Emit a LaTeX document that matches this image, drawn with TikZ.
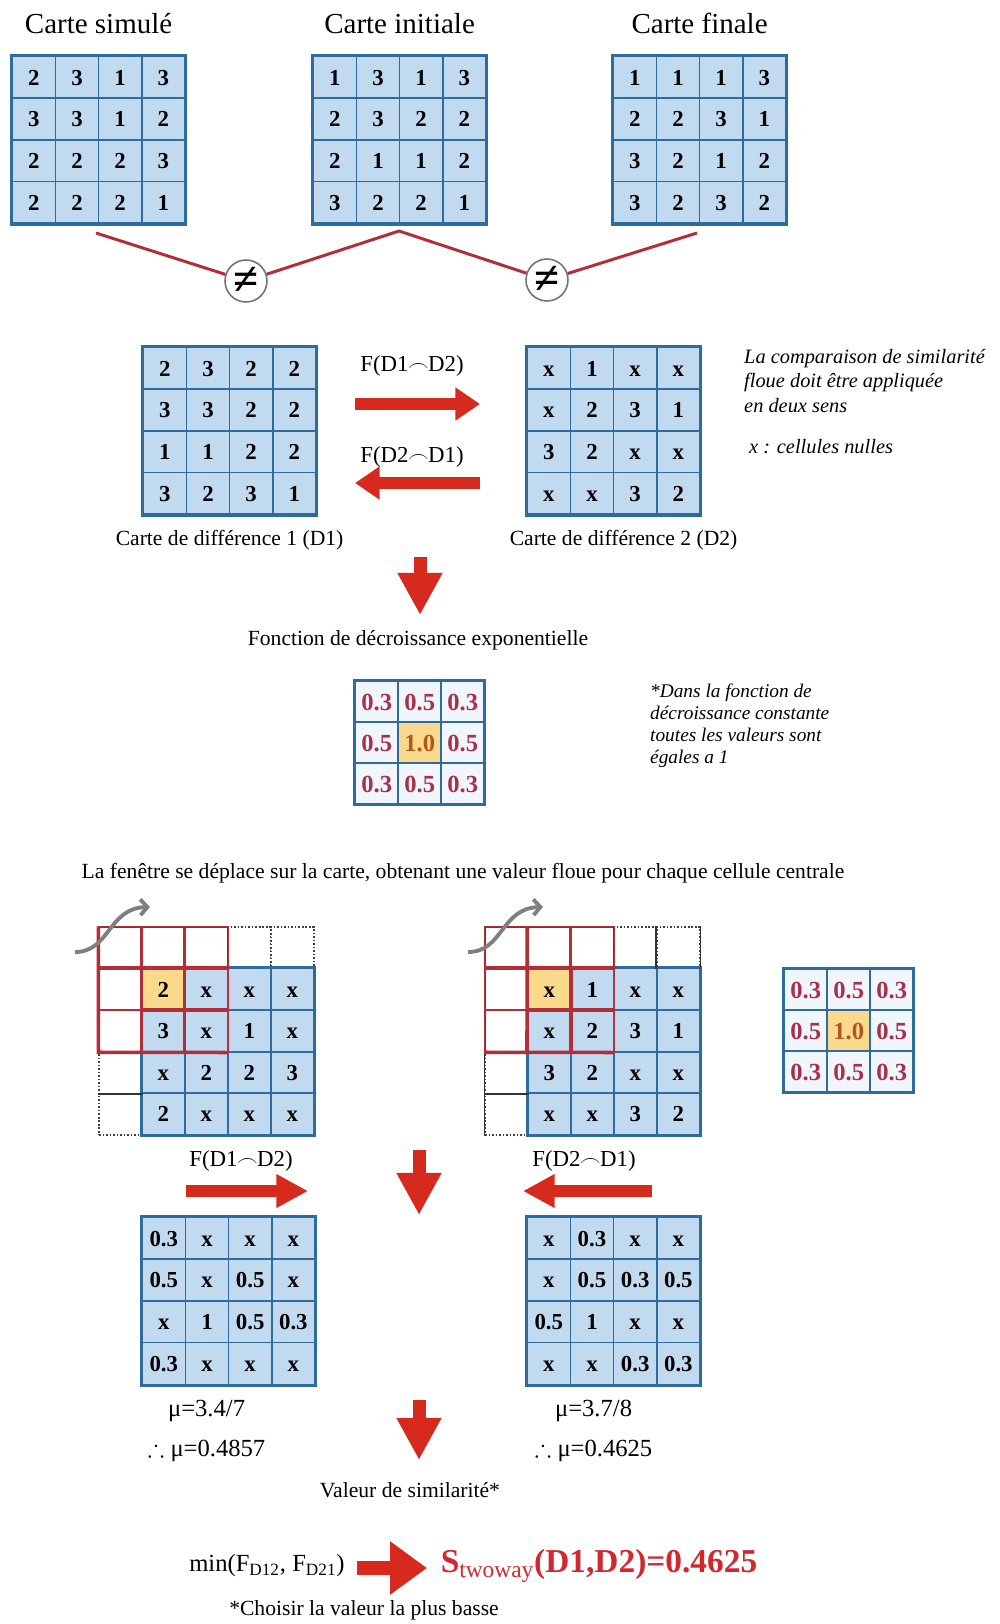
\documentclass[tikz,border=0pt]{standalone}
\usepackage{fontspec}
\setmainfont{Liberation Serif}
\usepackage{amssymb}
\usepackage{tikz}
\usetikzlibrary{positioning,arrows.meta,matrix}

\definecolor{cellblue}{HTML}{C2DAF0}
\definecolor{gridblue}{HTML}{2D6C9C}
\definecolor{linkred}{HTML}{B22F3A}
\definecolor{arrowred}{HTML}{D62A1E}
\definecolor{kernred}{HTML}{A8304A}
\definecolor{kernfill}{HTML}{F0F6FB}
\definecolor{hotyellow}{HTML}{F9D98C}
\definecolor{hottext}{HTML}{B2561C}
\definecolor{edgebrown}{HTML}{6E3A3A}
\definecolor{swoopgray}{HTML}{7F7F7F}
\definecolor{resultred}{HTML}{D0282E}

\newcommand{\fsz}[2]{\fontsize{#1}{#2}\selectfont}
\newcommand{\capjoin}{\kern-0.3pt$\frown$\kern-0.3pt}

\begin{document}
\begin{tikzpicture}[
        x=0.02cm, y=-0.02cm,
        every node/.style={font=\fsz{12.3}{14}},
        maptitle/.style={font=\fsz{16.5}{19}},
        caption/.style={font=\fsz{12.3}{14}},
        flab/.style={font=\fsz{13}{15}},
        mutext/.style={font=\fsz{14}{16}},
        remark/.style={font=\fsz{11.6}{14.2}\itshape, align=left, anchor=west},
        cellbox/.style={
            draw=gridblue,
            fill=cellblue,
            line width=1pt,
            inner sep=0pt,
            anchor=center,
            text height=9pt,
            text depth=0pt,
            minimum width=0.864cm,
            minimum height=0.836cm,
            font=\fsz{13}{13}\bfseries
        },
        mapgrid/.style={
            matrix of nodes,
            nodes={cellbox},
            column sep=-1pt,
            row sep=-1pt,
            inner sep=0pt,
            anchor=north west,
            draw=gridblue,
            line width=1.5pt
        },
        kernbox/.style={cellbox, fill=kernfill, text=kernred, text height=9.6pt,
            minimum width=0.86cm, minimum height=0.82cm, font=\fsz{14}{14}\bfseries},
        kerngrid/.style={mapgrid, nodes={kernbox}},
        hotcell/.style={fill=hotyellow, text=hottext},
        hotmap/.style={fill=hotyellow},
        slidegrid/.style={mapgrid, draw=none, nodes in empty cells,
            nodes={minimum width=0.86cm, minimum height=0.832cm}},
        edgecell/.style={fill=white, draw=edgebrown, line width=0.7pt},
        dotcell/.style={fill=white, draw=black!75, densely dotted, line width=0.8pt},
        edgeline/.style={draw=black!80, line width=0.9pt},
        mapframe/.style={draw=gridblue, line width=1.5pt},
        winthin/.style={draw=linkred, line width=0.9pt},
        winthick/.style={draw=linkred, line width=2pt},
        neqdot/.style={circle, draw=black!55, fill=white, line width=0.9pt,
            minimum size=0.84cm, inner sep=0pt, font=\fsz{26}{26}\bfseries},
        redlink/.style={draw=linkred, line width=1.7pt},
        flatarrow/.style={draw=arrowred, line width=7pt, -{Triangle[width=18pt, length=14pt]}},
        lowarrow/.style={flatarrow, -{Triangle[width=18pt, length=18pt]}},
        droparrow/.style={draw=arrowred, line width=7.4pt, -{Triangle[width=24pt, length=24pt]}},
        bigarrow/.style={draw=arrowred, line width=8.5pt, -{Triangle[width=29pt, length=21pt]}},
        swoop/.style={draw=swoopgray, line width=2.2pt, -{Straight Barb[length=4pt, width=9pt]}}
    ]
        \fill[white] (0,0) rectangle (1000,1624);
        \useasboundingbox (0,0) rectangle (1000,1624);

        % Three maps
        \matrix (sim) [mapgrid] at (10,54) {
            2 & 3 & 1 & 3 \\
            3 & 3 & 1 & 2 \\
            2 & 2 & 2 & 3 \\
            2 & 2 & 2 & 1 \\
        };
        \matrix (ini) [mapgrid] at (311,54) {
            1 & 3 & 1 & 3 \\
            2 & 3 & 2 & 2 \\
            2 & 1 & 1 & 2 \\
            3 & 2 & 2 & 1 \\
        };
        \matrix (fin) [mapgrid] at (611,54) {
            1 & 1 & 1 & 3 \\
            2 & 2 & 3 & 1 \\
            3 & 2 & 1 & 2 \\
            3 & 2 & 3 & 2 \\
        };
        \node[maptitle, above=8pt of sim] (simT) {Carte simulé};
        \node[maptitle, above=8pt of ini] (iniT) {Carte initiale};
        \node[maptitle, above=8pt of fin] (finT) {Carte finale};

        % Comparison
        \node[neqdot] (neqA) at (246,281) {≠};
        \node[neqdot] (neqB) at (547,280) {≠};
        \coordinate (linkL) at (96,233);
        \coordinate (linkM) at (399,231);
        \coordinate (linkR) at (697,233);
        \draw[redlink] (linkL) -- (neqA) -- (linkM) -- (neqB) -- (linkR);

        % Difference maps
        \matrix (dA) [mapgrid] at (141,345) {
            2 & 3 & 2 & 2 \\
            3 & 3 & 2 & 2 \\
            1 & 1 & 2 & 2 \\
            3 & 2 & 3 & 1 \\
        };
        \matrix (dB) [mapgrid] at (525,345) {
            x & 1 & x & x \\
            x & 2 & 3 & 1 \\
            3 & 2 & x & x \\
            x & x & 3 & 2 \\
        };
        \node[caption, below=4pt of dA] (dAcap) {Carte de différence 1 (D1)};
        \node[caption, below=4pt of dB, xshift=0.2cm] (dBcap) {Carte de différence 2 (D2)};

        \coordinate (fwdS) at (355,404);
        \coordinate (fwdE) at (480,404);
        \coordinate (bwdS) at (480,483);
        \coordinate (bwdE) at (355,483);
        \draw[flatarrow] (fwdS) -- (fwdE);
        \draw[flatarrow] (bwdS) -- (bwdE);
        \node[flab] (fwdL) at (412,366) {F(D1\capjoin D2)};
        \node[flab] (bwdL) at (412,457) {F(D2\capjoin D1)};

        \node[remark] (twoWay) at (738,381) {La comparaison de similarité\\floue doit être appliquée\\en deux sens};
        \node[remark] (nullNote) at (743,447) {x : cellules nulles};

        % Decay kernel
        \coordinate (dropAs) at (420,557);
        \coordinate (dropAe) at (420,615);
        \draw[droparrow] (dropAs) -- (dropAe);
        \node (decayT) at (418,640) {Fonction de décroissance exponentielle};
        \matrix (kerA) [kerngrid] at (353,679) {
            0.3 & 0.5 & 0.3 \\
            0.5 & |[hotcell]| 1.0 & 0.5 \\
            0.3 & 0.5 & 0.3 \\
        };
        \node[remark, font=\fsz{11}{12.5}\itshape] (constNote) at (644,726) {*Dans la fonction de\\décroissance constante\\toutes les valeurs sont\\égales a 1};

        % Moving window
        \node (slideT) at (463,873) {La fenêtre se déplace sur la carte, obtenant une valeur floue pour chaque cellule centrale};
        \matrix (slA) [slidegrid] at (97,925) {
            |[edgecell]| & |[edgecell]| & |[edgecell]| & |[dotcell]| & |[dotcell]| \\
            |[edgecell]| & |[hotmap]| 2 & x & x & x \\
            |[edgecell]| & 3 & x & 1 & x \\
            |[dotcell]| & x & 2 & 2 & 3 \\
            |[dotcell]| & 2 & x & x & x \\
        };
        \matrix (slB) [slidegrid] at (483,925) {
            |[edgecell]| & |[edgecell]| & |[edgecell]| & |[dotcell]| & |[dotcell]| \\
            |[edgecell]| & |[hotmap]| x & 1 & x & x \\
            |[edgecell]| & x & 2 & 3 & 1 \\
            |[dotcell]| & 3 & 2 & x & x \\
            |[dotcell]| & x & x & 3 & 2 \\
        };
        \draw[mapframe] (slA-2-2.north west) rectangle (slA-5-5.south east);
        \draw[mapframe] (slB-2-2.north west) rectangle (slB-5-5.south east);
        \draw[edgeline] (slA-4-1.south west) -- (slA-4-1.south east);
        \draw[edgeline] (slB-1-5.north west) -- (slB-1-5.south west);
        \draw[edgeline] (slB-1-5.north east) -- (slB-1-5.south east);
        \draw[edgeline] (slB-4-1.north west) -- (slB-5-1.south west);
        \draw[edgeline] (slB-4-1.south west) -- (slB-4-1.south east);
        \foreach \r in {1,2,3} {
            \foreach \c in {1,2,3} {
                \draw[winthin] (slA-\r-\c.north west) rectangle (slA-\r-\c.south east);
                \draw[winthin] (slB-\r-\c.north west) rectangle (slB-\r-\c.south east);
            }
        }
        \draw[winthick] (slA-1-1.north west) -- (slA-3-1.south west) -- (slA-3-3.south east);
        \draw[winthick] (slA-2-1.north west) -- (slA-2-3.north east);
        \draw[winthick] (slB-1-2.north west) -- (slB-3-2.south west);
        \draw[winthick] (slB-2-1.north west) -- (slB-2-3.north east);
        \draw[winthick] (slB-3-1.south west) -- (slB-3-3.south east);

        \coordinate (swAs) at (75,952);
        \coordinate (swAe) at (150,907);
        \coordinate (swBs) at (468,952);
        \coordinate (swBe) at (543,907);
        \draw[swoop] (swAs) .. controls (110,952) and (108,908) .. (swAe);
        \draw[swoop] (swBs) .. controls (503,952) and (501,908) .. (swBe);

        \matrix (kerB) [kerngrid] at (782,967) {
            0.3 & 0.5 & 0.3 \\
            0.5 & |[hotcell]| 1.0 & 0.5 \\
            0.3 & 0.5 & 0.3 \\
        };

        % Fuzzy values
        \node[flab] (fwdL2) at (241,1161) {F(D1\capjoin D2)};
        \node[flab] (bwdL2) at (584,1161) {F(D2\capjoin D1)};
        \coordinate (fwdS2) at (186,1191);
        \coordinate (fwdE2) at (308,1191);
        \coordinate (bwdS2) at (652,1191);
        \coordinate (bwdE2) at (523,1191);
        \draw[lowarrow] (fwdS2) -- (fwdE2);
        \draw[lowarrow] (bwdS2) -- (bwdE2);
        \coordinate (dropBs) at (419,1150);
        \coordinate (dropBe) at (419,1215);
        \draw[droparrow] (dropBs) -- (dropBe);

        \matrix (resA) [mapgrid] at (140,1215) {
            0.3 & x & x & x \\
            0.5 & x & 0.5 & x \\
            x & 1 & 0.5 & 0.3 \\
            0.3 & x & x & x \\
        };
        \matrix (resB) [mapgrid] at (525,1215) {
            x & 0.3 & x & x \\
            x & 0.5 & 0.3 & 0.5 \\
            0.5 & 1 & x & x \\
            x & x & 0.3 & 0.3 \\
        };
        \node[mutext, below=4pt of resA, xshift=-0.44cm] (muA) {μ=3.4/7};
        \node[mutext, below=3pt of muA] (muAval) {$\therefore$ μ=0.4857};
        \node[mutext, below=4pt of resB, xshift=-0.4cm] (muB) {μ=3.7/8};
        \node[mutext, below=3pt of muB] (muBval) {$\therefore$ μ=0.4625};

        % Final similarity
        \coordinate (dropCs) at (419,1400);
        \coordinate (dropCe) at (419,1460);
        \draw[droparrow] (dropCs) -- (dropCe);
        \node (simVal) at (410,1490) {Valeur de similarité*};
        \node[font=\fsz{14}{16}] (minF) at (267,1566) {min(F\textsubscript{D12}, F\textsubscript{D21})};
        \coordinate (finS) at (357,1568);
        \coordinate (finE) at (427,1568);
        \draw[bigarrow] (finS) -- (finE);
        \node[text=resultred, font=\fsz{19}{22}\bfseries] (score) at (599,1566) {S\textsubscript{\mdseries twoway}(D1,D2)=0.4625};
        \node (pickLow) at (364,1610) {*Choisir la valeur la plus basse};

    \end{tikzpicture}
\end{document}
